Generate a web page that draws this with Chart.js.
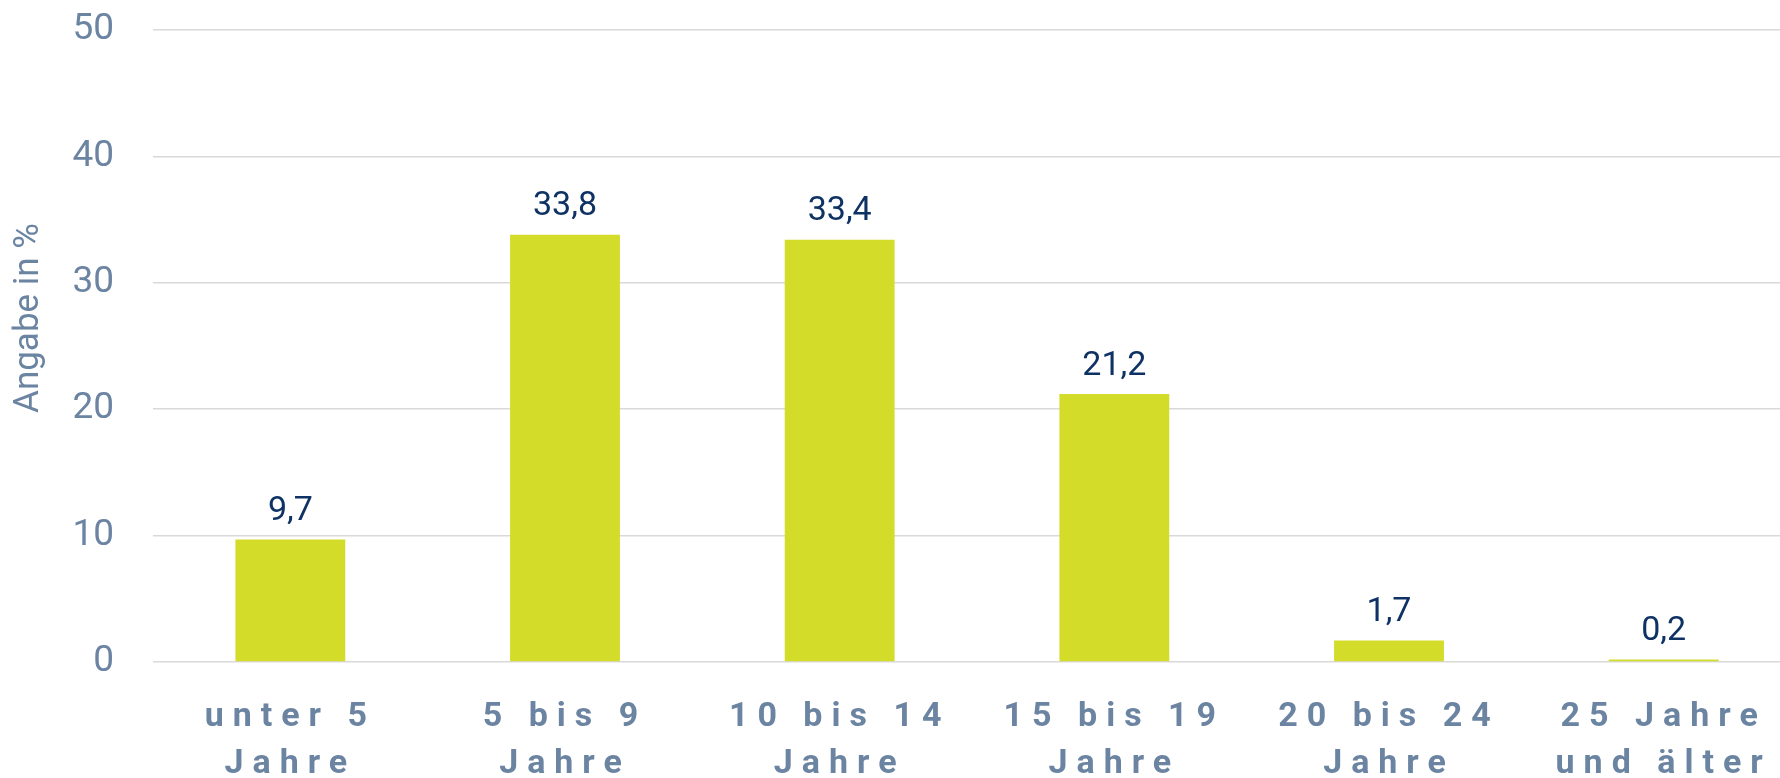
<!DOCTYPE html>
<html>
<head>
<meta charset="utf-8">
<script src="https://cdn.jsdelivr.net/npm/chart.js@4.4.1/dist/chart.umd.min.js"></script>
<style>
  html, body { margin: 0; padding: 0; background: #ffffff; overflow: hidden; width: 1780px; height: 778px; }
  #wrap { width: 1801px; height: 778px; position: relative; }
</style>
</head>
<body>
<div id="wrap"><canvas id="c"></canvas></div>
<script>
const categories = [
  ["unter 5", "Jahre"],
  ["5 bis 9", "Jahre"],
  ["10 bis 14", "Jahre"],
  ["15 bis 19", "Jahre"],
  ["20 bis 24", "Jahre"],
  ["25 Jahre", "und älter"]
];
const values = [9.7, 33.8, 33.4, 21.2, 1.7, 0.2];
const yTicks = [0, 10, 20, 30, 40, 50];
const yTitle = "Angabe in %";

const AXIS_COLOR = "#6b84a2";
const LABEL_COLOR = "#0e3264";
const BAR_COLOR = "#d4dc2a";
const GRID_COLOR = "#d9d9d9";

const valueLabels = {
  id: "valueLabels",
  afterDatasetsDraw(chart) {
    const ctx = chart.ctx;
    const meta = chart.getDatasetMeta(0);
    ctx.save();
    ctx.font = "34px Roboto, 'Open Sans', sans-serif";
    ctx.fillStyle = LABEL_COLOR;
    ctx.textAlign = "center";
    ctx.textBaseline = "bottom";
    meta.data.forEach((bar, i) => {
      const v = chart.data.datasets[0].data[i];
      const txt = v.toLocaleString("de-DE", { minimumFractionDigits: 1, maximumFractionDigits: 1 });
      ctx.fillText(txt, bar.x, bar.y - 11);
    });
    ctx.restore();
  }
};

const axisTweaks = {
  id: "axisTweaks",
  beforeDraw(chart) {
    const s = chart.scales.x;
    if (s && !s._spacedWrapped) {
      const orig = s.drawLabels.bind(s);
      s.drawLabels = function (area) {
        const ctx = chart.ctx;
        ctx.save();
        ctx.letterSpacing = "9px";
        orig(area);
        ctx.restore();
      };
      s._spacedWrapped = true;
    }
    const y = chart.scales.y;
    if (y && !y._titleWrapped) {
      const origT = y.drawTitle.bind(y);
      y.drawTitle = function () {
        const ctx = chart.ctx;
        ctx.save();
        ctx.translate(0, -28);
        origT();
        ctx.restore();
      };
      y._titleWrapped = true;
    }
  }
};

new Chart(document.getElementById("c"), {
  type: "bar",
  data: {
    labels: categories,
    datasets: [{
      data: values,
      backgroundColor: BAR_COLOR,
      borderWidth: 0,
      categoryPercentage: 1.0,
      barPercentage: 0.40
    }]
  },
  options: {
    responsive: true,
    maintainAspectRatio: false,
    animation: false,
    devicePixelRatio: 1,
    layout: { padding: { top: 30, right: 0, bottom: 0, left: 0 } },
    plugins: {
      legend: { display: false },
      tooltip: { enabled: false },
      title: { display: false }
    },
    scales: {
      x: {
        grid: { display: false, drawTicks: false },
        border: { display: false },
        ticks: {
          color: AXIS_COLOR,
          padding: 32,
          maxRotation: 0,
          autoSkip: false,
          font: { family: "Roboto, 'Open Sans', sans-serif", size: 34, weight: "bold", lineHeight: "47px" }
        },
        afterFit(scale) { scale.height = 116; }
      },
      y: {
        min: 0,
        max: 50,
        afterBuildTicks(scale) { scale.ticks = yTicks.map(v => ({ value: v })); },
        grid: { color: GRID_COLOR, lineWidth: 1.5, drawTicks: false },
        border: { display: false },
        ticks: {
          color: AXIS_COLOR,
          padding: 39,
          font: { family: "Roboto, 'Open Sans', sans-serif", size: 37 }
        },
        title: {
          display: true,
          text: yTitle,
          color: AXIS_COLOR,
          padding: { top: 8, bottom: 0 },
          font: { family: "Roboto, 'Open Sans', sans-serif", size: 35, lineHeight: 1.2 }
        },
        afterFit(scale) {
          scale.width = 153;
          scale.paddingTop = 0;
          scale.paddingBottom = 0;
        }
      }
    }
  },
  plugins: [valueLabels, axisTweaks]
});
</script>
</body>
</html>
